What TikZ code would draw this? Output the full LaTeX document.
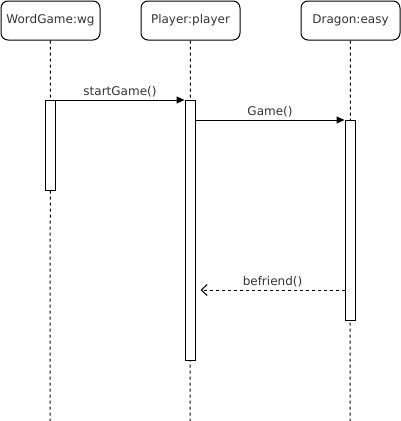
\documentclass[tikz,border=0pt]{standalone}
\usepackage{fontspec}
\setmainfont{DejaVu Sans}
\usetikzlibrary{arrows.meta}
\definecolor{labelgray}{HTML}{333333}
\tikzstyle{object} = [rectangle, rounded corners=7pt, minimum width=99pt, minimum height=39pt, text centered, draw=black, text=labelgray, font=\fontsize{12}{14}\selectfont]
\tikzstyle{activation} = [rectangle, minimum width=10pt, inner sep=0pt, draw=black, fill=white, anchor=north]
\tikzstyle{lifeline} = [dash pattern=on 3pt off 3pt]
\tikzstyle{call} = [-{Triangle[length=8pt,width=7pt]}]
\tikzstyle{reply} = [dash pattern=on 3pt off 3pt, -{Straight Barb[length=6pt,width=11pt]}]
\tikzstyle{msg} = [above, inner sep=2pt, text=labelgray, font=\fontsize{12}{14}\selectfont]

\begin{document}
\begin{tikzpicture}[x=1pt, y=-1pt, line width=1pt]
        \useasboundingbox (0,0) rectangle (401,421);
        \node (wg) [object] at (50.5,20.5) {WordGame:wg};
        \node (player) [object] at (190.5,20.5) {Player:player};
        \node (easy) [object] at (350.5,20.5) {Dragon:easy};

        \coordinate (wgEnd) at (50,421);
        \coordinate (playerEnd) at (190,421);
        \coordinate (easyEnd) at (350,421);

        \draw [lifeline] (wg) -- (wgEnd);
        \draw [lifeline] (player) -- (playerEnd);
        \draw [lifeline] (easy) -- (easyEnd);

        \node (actWg) [activation, minimum height=90pt] at (50,100) {};
        \node (actPlayer) [activation, minimum height=260pt] at (190,100) {};
        \node (actEasy) [activation, minimum height=200pt] at (350,120) {};

        \draw [call] (actWg.north east) -- node[msg] {startGame()} (actPlayer.north west);
        \draw [call] (actPlayer.east |- actEasy.north) -- node[msg] {Game()} (actEasy.north west);
        \draw [reply, shorten >=5pt] (actEasy.west |- 0,290) -- node[msg, xshift=2.5pt] {befriend()} (actPlayer.east |- 0,290);
\end{tikzpicture}
\end{document}
